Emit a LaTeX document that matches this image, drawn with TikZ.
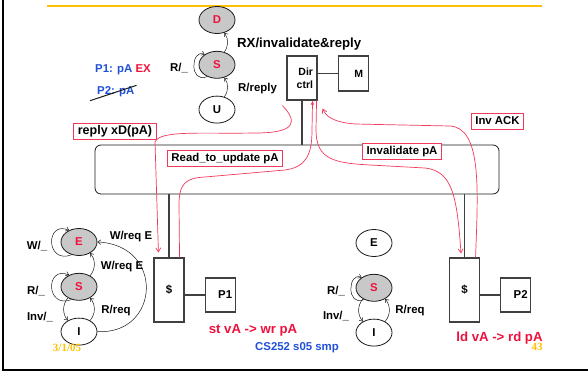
\documentclass[tikz,border=0pt]{standalone}
\usepackage{fontspec}
\setmainfont{Liberation Sans}
\newfontfamily\slidefont{Liberation Serif}
\usepackage{tikz}
\usetikzlibrary{shapes.geometric, arrows.meta, positioning}
\definecolor{ink}{HTML}{1A1A1A}
\definecolor{wire}{HTML}{404040}
\definecolor{statefill}{HTML}{C8C8C8}
\definecolor{hot}{HTML}{F0103C}
\definecolor{msg}{HTML}{F03A5C}
\definecolor{note}{HTML}{2050D8}
\definecolor{gold}{HTML}{FFC000}
\newcommand{\lblfont}{\bfseries\fontsize{11.4}{13}\selectfont}
\newcommand{\bigfont}{\bfseries\fontsize{13.2}{15}\selectfont}
\newcommand{\unitfont}{\bfseries\fontsize{10.5}{13}\selectfont}
\tikzset{
  st/.style     ={ellipse, draw=ink, line width=0.8pt, fill=white,
                  minimum width=36pt, minimum height=27pt, inner sep=0pt,
                  font=\lblfont},
  stx/.style    ={st, fill=statefill, text=hot},
  unit/.style   ={draw=wire, line width=1.1pt, inner sep=0pt, font=\unitfont},
  msgbox/.style ={draw=msg, line width=0.9pt, fill=white, inner xsep=4pt,
                  inner ysep=2.5pt, font=\lblfont, text height=8.5pt,
                  text depth=2.5pt},
  lbl/.style    ={inner sep=0pt, font=\lblfont, text height=8.5pt,
                  text depth=2.5pt},
  tr/.style     ={-{Straight Barb[length=3pt,width=4.5pt]}, draw=ink,
                  line width=0.5pt},
  req/.style    ={-{Straight Barb[length=4pt,width=5pt]}, draw=msg,
                  line width=0.7pt},
  reqf/.style   ={-{Latex[length=4pt,width=3.5pt]}, draw=msg, line width=0.7pt}
}

\begin{document}
\begin{tikzpicture}[x=1pt, y=1pt]
  \useasboundingbox (0,0) rectangle (588,-372);
  \draw[gold, line width=2pt] (47,-6) -- (542,-6);
  \draw[black, line width=2.5pt] (3,0) -- (3,-370) -- (588,-370);

  \node[stx]                (d) at (217,-20) {D};
  \node[stx, below=17pt of d] (s) {S};
  \node[st,  below=17pt of s] (u) {U};

  \node[unit, minimum width=30pt, minimum height=44pt, text width=22pt,
        align=right] (dir) at (302,-78) {Dir\\ctrl};
  \node[unit, minimum width=30pt, minimum height=35pt, text width=20pt,
        align=right, right=20pt of dir, yshift=4.5pt] (mem) {M};

  \node[draw=ink, line width=0.8pt, rounded corners=6pt, minimum width=404pt,
        minimum height=49pt] (bus) at (297,-169.5) {};

  \node[unit, font=\lblfont, minimum width=30pt, minimum height=64pt] (c1) at (169,-290) {\$};
  \node[unit, font=\lblfont, minimum width=30pt, minimum height=34pt, text width=24pt,
        align=right, right=20pt of c1, yshift=-5pt] (p1) {P1};
  \node[unit, font=\lblfont, minimum width=30pt, minimum height=64pt] (c2) at (464.5,-290) {\$};
  \node[unit, font=\lblfont, minimum width=30pt, minimum height=34pt, text width=24pt,
        align=right, right=20pt of c2, yshift=-5pt] (p2) {P2};

  \draw[wire, line width=1.1pt] (dir.south) -- (dir.south |- bus.north);
  \draw[wire, line width=1.1pt] (dir.east |- mem.west) -- (mem.west);
  \draw[wire, line width=1.1pt] (c1.north) -- (c1.north |- bus.south);
  \draw[wire, line width=1.1pt] (c1.east |- p1.west) -- (p1.west);
  \draw[wire, line width=1.1pt] (c2.north) -- (c2.north |- bus.south);
  \draw[wire, line width=1.1pt] (c2.east |- p2.west) -- (p2.west);

  \node[stx]                  (e1) at (79,-242) {E};
  \node[stx, below=17pt of e1] (s1) {S};
  \node[st,  below=17pt of s1] (i1) {I};

  \node[st]                   (e2) at (374,-243) {E};
  \node[stx, below=17pt of e2] (s2) {S};
  \node[st,  below=17pt of s2] (i2) {I};

  \draw[tr] (u.60) to[bend right=35] (s.-60);
  \draw[tr] (s.60) to[bend right=35] (d.-60);
  \draw[tr] (s.230) .. controls +(-18,-8) and +(-14,6) .. (s.140);

  \draw[tr] (e1.240) .. controls +(-26,-10) and +(-24,10) .. (e1.130);
  \draw[tr] (s1.240) .. controls +(-26,-10) and +(-24,10) .. (s1.130);
  \draw[tr] (s1.225) to[bend right=40] (i1.135);
  \draw[tr] (i1.45) to[bend right=40] (s1.-45);
  \draw[tr] (s1.45) to[bend right=40] (e1.-45);
  \draw[tr] (i1.east) .. controls (160,-335) and (165,-245) .. (e1.east);

  \draw[tr] (s2.230) .. controls +(-18,-8) and +(-14,6) .. (s2.140);
  \draw[tr] (s2.225) to[bend right=40] (i2.135);
  \draw[tr] (i2.45) to[bend right=40] (s2.-45);

  \node[lbl, font=\bigfont, anchor=west] (lrx) at (237,-44) {RX/invalidate\&reply};
  \node[lbl, anchor=west] (lrr) at (238,-88) {R/reply};
  \node[lbl] (lr0) at (179,-68) {R/\_};
  \node[lbl, anchor=west, text=note] (own1) at (95,-69) {P1: pA \textcolor{hot}{EX}};
  \node[lbl, anchor=west, text=note] (own2) at (97,-91) {P2: pA};
  \draw[ink, line width=1pt] ([shift={(-7pt,-4pt)}]own2.south west)
    -- ([shift={(2pt,0pt)}]own2.north east);

  \node[lbl] (lw1)   at (37,-246)  {W/\_};
  \node[lbl] (lr1)   at (36,-291)  {R/\_};
  \node[lbl] (linv1) at (40,-317)  {Inv/\_};
  \node[lbl] (lwe1)  at (131,-236) {W/req E};
  \node[lbl] (lwe2)  at (122,-266) {W/req E};
  \node[lbl] (lrq1)  at (116,-310) {R/req};
  \node[lbl] (lr2)   at (336,-291) {R/\_};
  \node[lbl] (linv2) at (336,-316) {Inv/\_};
  \node[lbl] (lrq2)  at (410,-310) {R/req};

  \node[lbl, font=\bigfont, text=hot] (op1) at (253,-330)   {st vA -> wr pA};
  \node[lbl, font=\bigfont, text=hot] (op2) at (499.5,-338) {ld vA -> rd pA};
  \node[lbl, text=note] (foot) at (297,-347) {CS252 s05 smp};
  \node[inner sep=0pt, text=gold, font=\slidefont\bfseries\fontsize{11}{13}\selectfont]
    (date) at (67,-348) {3/1/05};
  \node[inner sep=0pt, text=gold, font=\slidefont\bfseries\fontsize{11}{13}\selectfont]
    (page) at (537,-347) {43};

  \draw[req] ([shift={(-4pt,-5pt)}]dir.south west)
    .. controls (298,-122) and (296,-133) .. (255,-133)
    .. controls (200,-134) and (160,-130) .. (155,-142)
    -- ([shift={(5pt,5pt)}]c1.north west);
  \draw[reqf] ([xshift=-5pt]c1.north east) -- (179,-205)
    .. controls (179,-183) and (186,-178) .. (205,-177) -- (285,-170)
    .. controls (306,-167) and (312,-155) .. (312,-130)
    -- ([xshift=-5pt]dir.south east);
  \draw[req] ([xshift=-1pt]dir.south east) -- (316,-130)
    .. controls (316,-160) and (335,-163) .. (370,-165) -- (425,-168)
    .. controls (452,-171) and (457,-195) .. ([shift={(-3.5pt,4pt)}]c2.north);
  \draw[req] ([xshift=-4.5pt]c2.north east)
    .. controls (478,-190) and (482,-128) .. (450,-126) -- (355,-124)
    .. controls (332,-122) and (326,-116) .. ([shift={(5pt,-8pt)}]dir.south east);

  \node[msgbox, font=\bfseries\fontsize{12.5}{14}\selectfont] (mreply) at (115,-131) {reply xD(pA)};
  \node[msgbox] (mread)  at (225,-158.5) {Read\_to\_update pA};
  \node[msgbox] (minv)   at (402,-151)   {Invalidate pA};
  \node[msgbox] (mack)   at (497.5,-121) {Inv ACK};
\end{tikzpicture}
\end{document}
